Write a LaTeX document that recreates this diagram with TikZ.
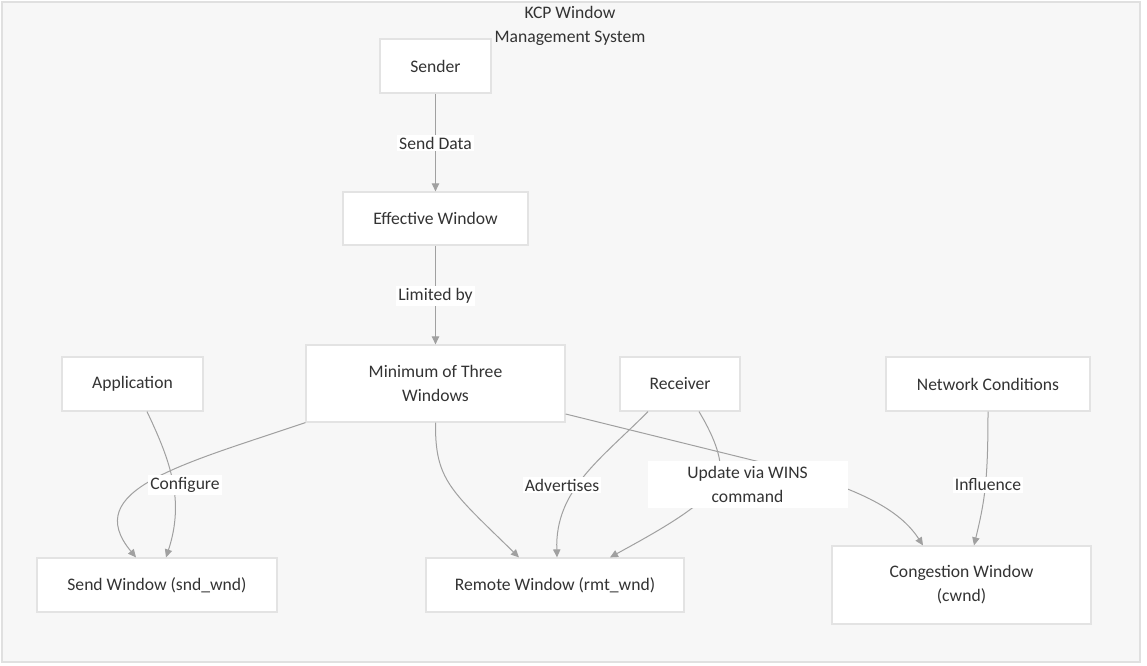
\documentclass[tikz,border=0pt]{standalone}
\usepackage{fontspec}
\setmainfont{Carlito}
\usetikzlibrary{arrows.meta}
\definecolor{bgc}{HTML}{F7F7F7}
\definecolor{frame}{HTML}{E0E0E0}
\definecolor{boxline}{HTML}{E3E3E3}
\definecolor{edgec}{HTML}{A0A0A0}
\definecolor{txt}{HTML}{333333}
\tikzset{
  box/.style={draw=boxline, fill=white, line width=0.9pt, inner sep=0pt, text=txt,
    font=\fontsize{13.2}{18}\selectfont, align=center},
  elabel/.style={fill=white, inner sep=1.5pt, text=txt, font=\fontsize{13.2}{18}\selectfont, align=center},
  conn/.style={draw=edgec, line width=0.75pt, -{Triangle[length=6pt,width=5.5pt]}},
}
\begin{document}
\begin{tikzpicture}[x=0.75pt,y=-0.75pt]
\useasboundingbox (0,0) rectangle (1147,666);
\fill[white] (0,0) rectangle (1147,666);
\draw[frame, fill=bgc, line width=1.5pt] (2,2) rectangle (1140,662);

\node[text=txt, font=\fontsize{13.2}{18}\selectfont, align=center] (title) at (570,26) {KCP Window\\Management System};

\node[box, minimum width=83.25pt, minimum height=40.5pt] (sender) at (435.5,66) {Sender};
\node[box, minimum width=138.75pt, minimum height=39.75pt] (eff) at (435.5,218.5) {Effective Window};
\node[box, minimum width=194.25pt, minimum height=57.75pt] (min) at (435.5,383.5) {Minimum of Three\\Windows};
\node[box, minimum width=105.75pt, minimum height=40.5pt] (app) at (132.5,384) {Application};
\node[box, minimum width=90pt, minimum height=40.5pt] (recv) at (680,384) {Receiver};
\node[box, minimum width=153pt, minimum height=40.5pt] (net) at (988,384) {Network Conditions};
\node[box, minimum width=180pt, minimum height=40.5pt] (sendw) at (157,585) {Send Window (snd\_wnd)};
\node[box, minimum width=193.5pt, minimum height=40.5pt] (rmtw) at (555,585) {Remote Window (rmt\_wnd)};
\node[box, minimum width=194.25pt, minimum height=58.5pt] (cwnd) at (961.5,585) {Congestion Window\\(cwnd)};

% connectors
\draw[conn] (sender) -- (eff);
\draw[conn] (eff) -- (min);
\draw[conn] (min.south west) .. controls (180,465) and (80,490) .. ([xshift=-15.75pt]sendw.north);
\draw[conn] ([xshift=10.875pt]app.south) .. controls (170,460) and (185,500) .. ([xshift=6.75pt]sendw.north);
\draw[conn] (min.south) .. controls (435,480) and (450,490) .. ([xshift=-27pt]rmtw.north);
\draw[conn] ([xshift=-24pt]recv.south) .. controls (600,460) and (555,490) .. ([xshift=1.5pt]rmtw.north);
\draw[conn] ([xshift=14.25pt]recv.south) .. controls (716,440) and (722,460) .. (720,475)
  .. controls (715,500) and (660,530) .. ([xshift=41.25pt]rmtw.north);
\draw[conn] ([yshift=-22.875pt]min.east) -- (760,462) .. controls (860,487) and (900,510) .. ([xshift=-28.875pt]cwnd.north);
\draw[conn] (net.south) .. controls (988,480) and (985,500) .. ([xshift=9.375pt]cwnd.north);

% edge labels
\node[elabel] (l1) at (435.5,143) {Send Data};
\node[elabel] (l2) at (435.5,296) {Limited by};
\node[elabel] (l3) at (185,485) {Configure};
\node[elabel] (l4) at (562,485) {Advertises};
\node[elabel, minimum width=150pt, minimum height=35.25pt, inner sep=0pt] (l5) at (747.5,484.5) {Update via WINS\\command};
\node[elabel] (l6) at (988,485) {Influence};
\end{tikzpicture}
\end{document}
